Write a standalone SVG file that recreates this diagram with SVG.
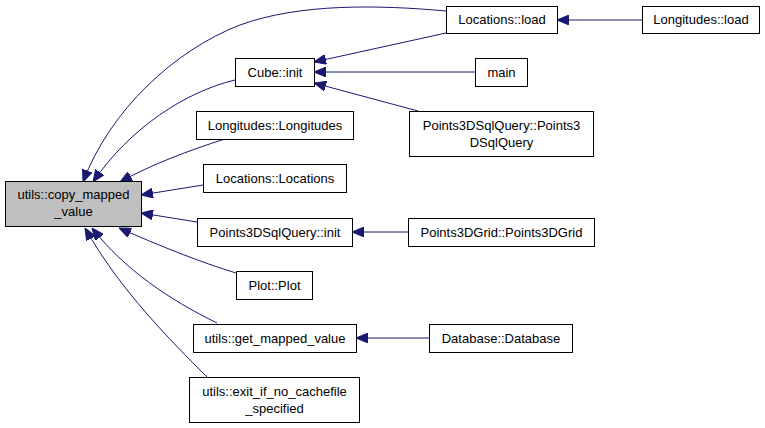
<svg xmlns="http://www.w3.org/2000/svg" width="765" height="428" viewBox="0 0 765 428">
<style>
.n rect{fill:#ffffff;stroke:#000000;stroke-width:1}
.n.hl rect{fill:#bfbfbf}
.n text{font-family:"Liberation Sans",Arial,Helvetica,sans-serif;font-size:13px;fill:#000000;text-anchor:middle}
.e path{fill:none;stroke:#191970;stroke-width:1;marker-end:url(#ah)}
</style>
<defs>
<marker id="ah" markerUnits="userSpaceOnUse" markerWidth="12" markerHeight="10" refX="12" refY="5" orient="auto">
<path d="M0,0 L12,5 L0,10 z" fill="#191970" stroke="#191970" stroke-width="1"/>
</marker>
</defs>
<rect x="0" y="0" width="765" height="428" fill="#ffffff"/>
<g id="edges" class="e">
<path d="M446,11 C380,5 300,3 240,25 C175,50 110,110 83,182"/>
<path d="M235,80 C185,92 130,128 93,182"/>
<path d="M225,139 C190,150 150,165 120,182"/>
<path d="M203,185 L141,195"/>
<path d="M197,222 L141,213"/>
<path d="M236,273 C200,262 160,246 119,228"/>
<path d="M217,323 C170,300 125,270 92,228"/>
<path d="M207,377 C170,340 120,290 85,228"/>
<path d="M446,33 L314,62"/>
<path d="M475,72 L314,72"/>
<path d="M418,111 L314,83"/>
<path d="M642,20 L557,20"/>
<path d="M408,232 L352,232"/>
<path d="M429,338 L356,338"/>
</g>
<g id="copy_mapped_value" class="n hl"><rect x="5.5" y="181.5" width="136" height="45"/><text x="73.5" y="199">utils::copy_mapped</text><text x="73.5" y="216">_value</text></g>
<g id="locations_load" class="n"><rect x="446.5" y="6.5" width="111" height="27"/><text x="502" y="24">Locations::load</text></g>
<g id="longitudes_load" class="n"><rect x="642.5" y="6.5" width="117" height="27"/><text x="701" y="24">Longitudes::load</text></g>
<g id="cube_init" class="n"><rect x="235.5" y="58.5" width="79" height="28"/><text x="275" y="77">Cube::init</text></g>
<g id="main" class="n"><rect x="475.5" y="58.5" width="52" height="28"/><text x="501.5" y="77">main</text></g>
<g id="points3dsqlquery_ctor" class="n"><rect x="409.5" y="111.5" width="184" height="45"/><text x="501.5" y="130">Points3DSqlQuery::Points3</text><text x="501.5" y="147">DSqlQuery</text></g>
<g id="longitudes_ctor" class="n"><rect x="196.5" y="111.5" width="157" height="28"/><text x="275" y="130">Longitudes::Longitudes</text></g>
<g id="locations_ctor" class="n"><rect x="203.5" y="164.5" width="143" height="28"/><text x="275" y="183">Locations::Locations</text></g>
<g id="points3dsqlquery_init" class="n"><rect x="197.5" y="218.5" width="155" height="28"/><text x="275" y="237">Points3DSqlQuery::init</text></g>
<g id="points3dgrid_ctor" class="n"><rect x="408.5" y="218.5" width="186" height="28"/><text x="501.5" y="237">Points3DGrid::Points3DGrid</text></g>
<g id="plot_ctor" class="n"><rect x="236.5" y="271.5" width="76" height="28"/><text x="274.5" y="290">Plot::Plot</text></g>
<g id="get_mapped_value" class="n"><rect x="193.5" y="324.5" width="163" height="28"/><text x="275" y="343">utils::get_mapped_value</text></g>
<g id="database_ctor" class="n"><rect x="429.5" y="324.5" width="143" height="28"/><text x="501" y="343">Database::Database</text></g>
<g id="exit_if_no_cachefile" class="n"><rect x="189.5" y="377.5" width="170" height="45"/><text x="274.5" y="396">utils::exit_if_no_cachefile</text><text x="274.5" y="413">_specified</text></g>
</svg>
